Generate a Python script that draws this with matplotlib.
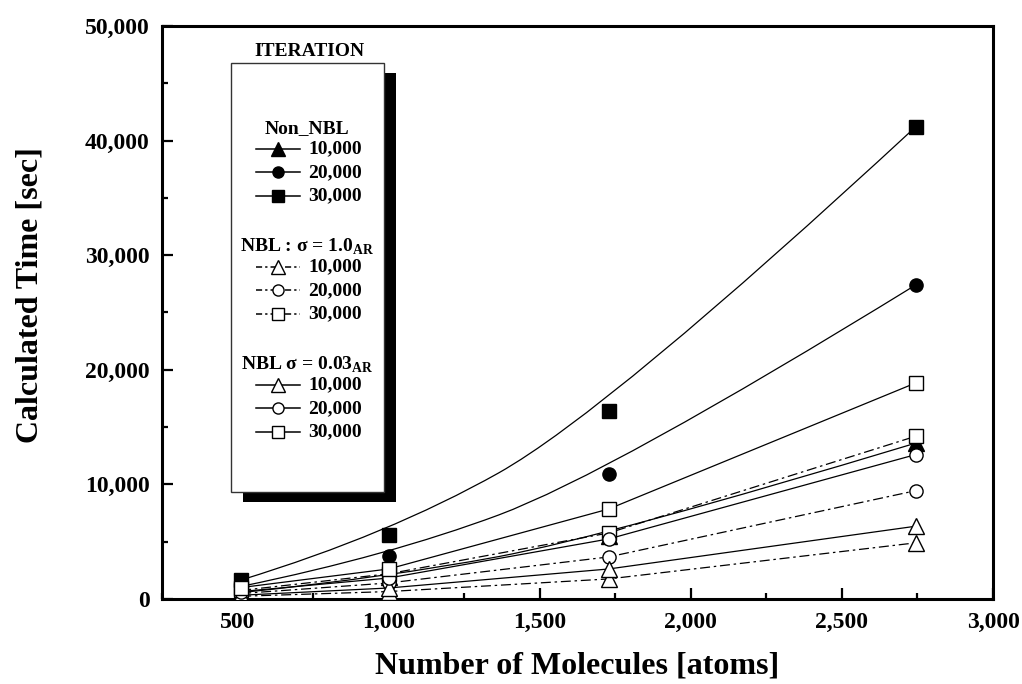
import matplotlib
matplotlib.use("Agg")
import matplotlib.pyplot as plt
import matplotlib.patches as mpatches
from matplotlib.path import Path
from matplotlib.ticker import MultipleLocator, FuncFormatter

plt.rcParams['font.family'] = ['Liberation Serif', 'DejaVu Serif']
plt.rcParams['font.weight'] = 'bold'
plt.rcParams['mathtext.fontset'] = 'custom'
plt.rcParams['mathtext.rm'] = 'Liberation Serif:bold'
plt.rcParams['mathtext.bf'] = 'Liberation Serif:bold'

# ---------------- data ----------------
atoms = [512, 1000, 1728, 2744]

non_10k = [560, 1900, 5500, 13600]
non_20k = [1100, 3760, 10900, 27400]
non_30k = [1660, 5600, 16400, 41200]

s10_10k = [240, 650, 1750, 4900]
s10_20k = [480, 1400, 3670, 9450]
s10_30k = [750, 2200, 5760, 14200]

s003_10k = [330, 960, 2620, 6350]
s003_20k = [650, 1830, 5240, 12600]
s003_30k = [1000, 2620, 7850, 18850]

iter_labels = ["10,000", "20,000", "30,000"]
group_titles = ["Non_NBL", r"NBL : σ = 1.0$_{\mathregular{AR}}$", r"NBL σ = 0.03$_{\mathregular{AR}}$"]

DASHDOT = (0, (8, 3, 2, 3))
LW = 0.9


def bspline_path(xs, ys):
    # quadratic clamped B-spline (Origin style smooth line) on the data points
    pts = list(zip(xs, ys))
    verts = [pts[0]]
    codes = [Path.MOVETO]
    for i in range(1, len(pts) - 2):
        mid = ((pts[i][0] + pts[i + 1][0]) / 2, (pts[i][1] + pts[i + 1][1]) / 2)
        verts += [pts[i], mid]
        codes += [Path.CURVE3, Path.CURVE3]
    verts += [pts[-2], pts[-1]]
    codes += [Path.CURVE3, Path.CURVE3]
    return Path(verts, codes)


fig = plt.figure(figsize=(10.22, 6.84), dpi=100, facecolor='white')
ax = fig.add_axes([162 / 1022, 1 - 599 / 684, (993 - 162) / 1022, (599 - 26) / 684])

# Non_NBL : smooth B-spline lines, filled markers
for ys, mk in [(non_10k, '^'), (non_20k, 'o'), (non_30k, 's')]:
    ax.add_patch(mpatches.PathPatch(bspline_path(atoms, ys), facecolor='none',
                                    edgecolor='black', lw=LW, zorder=2))
    ax.plot(atoms, ys, ls='none', marker=mk, ms=11 if mk == '^' else 9.5,
            mfc='black', mec='black', zorder=2.5)

# NBL sigma = 1.0 : dash-dot, open markers
for ys, mk in [(s10_10k, '^'), (s10_20k, 'o'), (s10_30k, 's')]:
    ax.plot(atoms, ys, color='black', lw=LW, ls=DASHDOT, marker=mk,
            ms=11 if mk == '^' else 9.5, mfc='white', mec='black', mew=1.0, zorder=3)

# NBL sigma = 0.03 : solid, open markers
for ys, mk in [(s003_10k, '^'), (s003_20k, 'o'), (s003_30k, 's')]:
    ax.plot(atoms, ys, color='black', lw=LW, ls='-', marker=mk,
            ms=11 if mk == '^' else 9.5, mfc='white', mec='black', mew=1.0, zorder=3)

ax.set_xlim(250, 3000)
ax.set_ylim(0, 50000)
ax.xaxis.set_major_locator(MultipleLocator(500))
ax.xaxis.set_minor_locator(MultipleLocator(250))
ax.yaxis.set_major_locator(MultipleLocator(10000))
ax.yaxis.set_minor_locator(MultipleLocator(5000))
fmt = FuncFormatter(lambda v, p: f"{v:,.0f}")
ax.xaxis.set_major_formatter(fmt)
ax.yaxis.set_major_formatter(fmt)

for s in ax.spines.values():
    s.set_linewidth(2.2)
ax.tick_params(which='both', direction='in', top=False, right=False, width=1.6)
ax.tick_params(which='major', length=8, labelsize=17, pad=9)
ax.tick_params(which='minor', length=4)
for lab in ax.get_xticklabels() + ax.get_yticklabels():
    lab.set_fontweight('bold')

ax.set_xlabel("Number of Molecules [atoms]", fontsize=23, fontweight='bold', labelpad=14)
ax.set_ylabel("Calculated Time [sec]", fontsize=23, fontweight='bold')
ax.yaxis.set_label_coords(-0.141, 0.53)

# ---------------- hand-made legend box (pixel coordinates) ----------------
lg = fig.add_axes([0, 0, 1, 1], zorder=10)
lg.set_xlim(0, 1022)
lg.set_ylim(684, 0)
lg.axis('off')

lg.add_patch(mpatches.Rectangle((243, 73), 153, 429, facecolor='black', edgecolor='none'))
lg.add_patch(mpatches.Rectangle((231, 63), 153, 429, facecolor='white', edgecolor='#333333', lw=1.0))
lg.text(309, 52, "ITERATION", ha='center', va='center', fontsize=14, fontweight='bold')

group_y = [129, 247, 365]
markers = ['^', 'o', 's']
styles = [('-', 'black'), ((0, (4, 2, 1.5, 2)), 'white'), ('-', 'white')]
for gi, gy in enumerate(group_y):
    lg.text(307, gy, group_titles[gi], ha='center', va='center', fontsize=14, fontweight='bold')
    ls, fc = styles[gi]
    for ri, lab in enumerate(iter_labels):
        ry = gy + 20 + ri * 23.3
        lg.plot([256, 300], [ry, ry], color='black', lw=1.1, ls=ls)
        lg.plot([278], [ry], ls='none', marker=markers[ri], ms=10 if markers[ri] == '^' else 8,
                mfc=fc, mec='black', mew=1.0)
        lg.text(308, ry, lab, ha='left', va='center', fontsize=14, fontweight='bold')

fig.savefig("out.png", dpi=100, facecolor='white')
